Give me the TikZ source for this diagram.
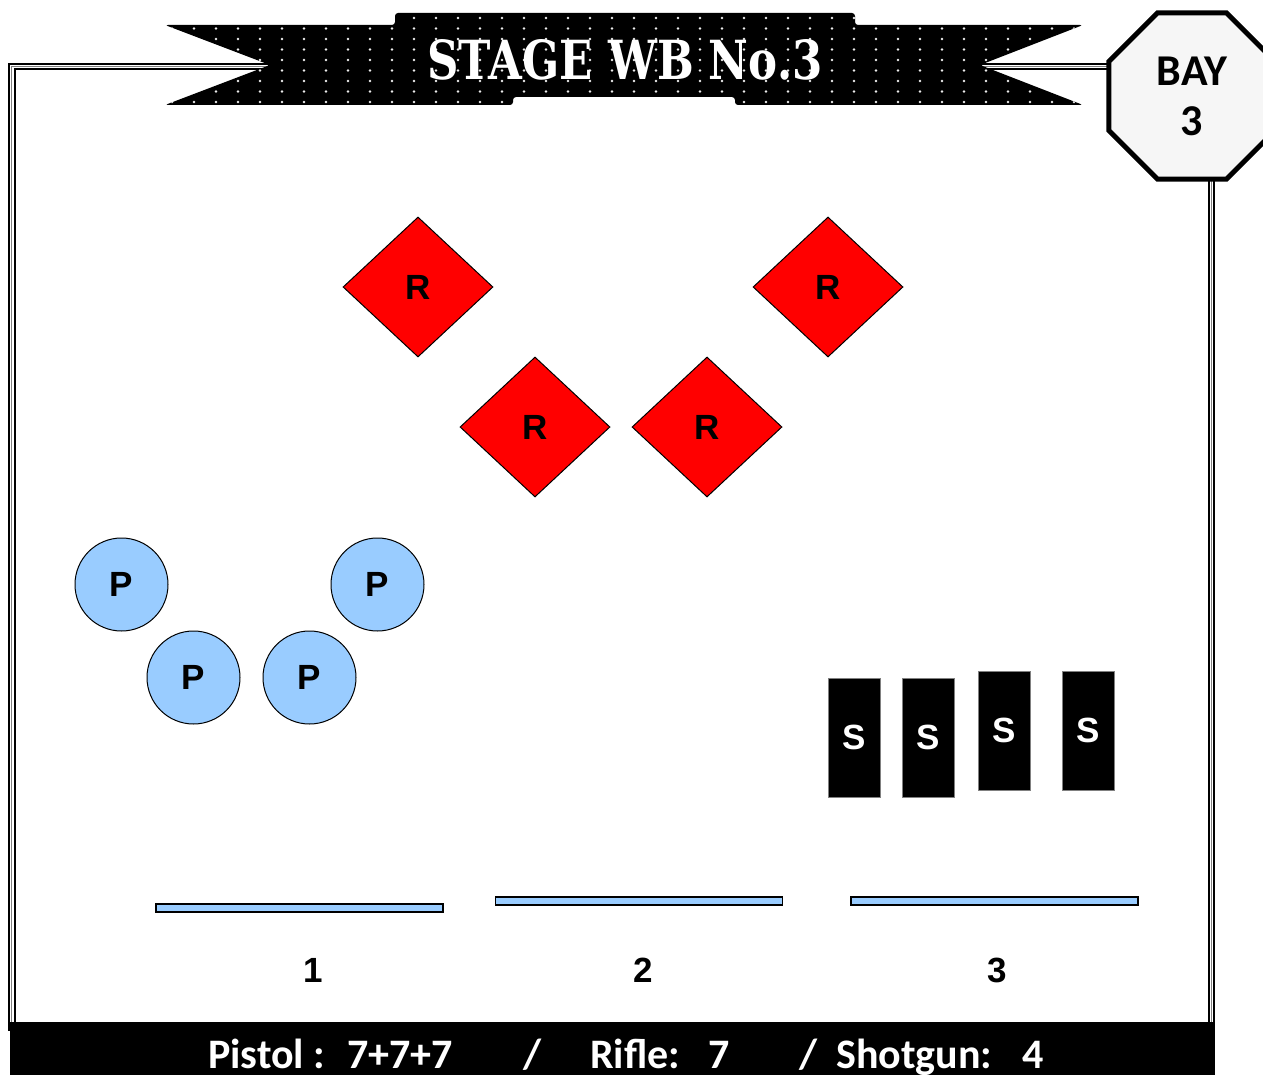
\documentclass[tikz,border=0pt]{standalone}
\usepackage{fontspec}
\setmainfont{Liberation Sans}
\newfontfamily\calib{Carlito}
\newfontfamily\slab{DejaVu Serif}
\usetikzlibrary{shapes.geometric}
\definecolor{pblue}{HTML}{99CCFF}
\definecolor{rred}{HTML}{FF0000}
\definecolor{octfill}{HTML}{F6F6F6}
\newcommand\bannershape{(165,25) -- (395,25) -- (395,13) -- (855,13) -- (855,25) -- (1083,25) -- (980,65) -- (1083,105) -- (735,105) -- (735,97) -- (513,97) -- (513,105) -- (165,105) -- (270,65) -- cycle}
\tikzset{
  lbl/.style={font=\fontsize{35}{40}\selectfont\bfseries},
  rtarget/.style={diamond, draw=black, line width=1pt, fill=rred, minimum width=150pt, minimum height=140pt, inner sep=0pt, lbl},
  ptarget/.style={circle, draw=black, line width=1pt, fill=pblue, minimum size=93pt, inner sep=0pt, lbl},
  starget/.style={rectangle, draw=gray, line width=0.8pt, fill=black, text=white, minimum width=52pt, minimum height=119pt, inner sep=0pt, lbl},
  fault/.style={rectangle, draw=black, line width=1.2pt, fill=pblue, minimum width=287pt, minimum height=8pt, inner sep=0pt},
  poslbl/.style={font=\fontsize{35}{40}\selectfont\bfseries},
  footer/.style={anchor=base west, text=white, inner sep=0pt, font=\calib\fontsize{42}{48}\selectfont\bfseries},
}
\begin{document}
\begin{tikzpicture}[x=1pt,y=-1pt]
\useasboundingbox (0,0) rectangle (1263,1075);
% frame
\draw[line width=2.5pt] (9,64) rectangle (1214,1030);
\draw[gray, line width=1pt] (11.5,66.5) rectangle (1211.5,1030);
\draw[line width=2pt] (15,69.5) rectangle (1209,1030);
% banner
\fill[black, rounded corners=3pt] \bannershape;
\begin{scope}
\clip \bannershape;
\foreach \c in {0,...,42}{\foreach \r in {0,...,9}{
  \fill[white!85!gray] (172+\c*22, 18+\r*10.5) circle (1.3);
}}
\end{scope}
\node[text=white, inner sep=0pt] (title) at (625,60) {\resizebox{395pt}{40pt}{\slab\bfseries STAGE WB No.3}};
% bay octagon
\node[regular polygon, regular polygon sides=8, minimum size=180pt, draw=black, line width=5pt, fill=octfill, inner sep=0pt, align=center, font=\calib\fontsize{44}{50}\selectfont\bfseries] (bay) at (1192,96) {BAY\\3};
% rifle targets
\node[rtarget] (r1) at (418,287) {R};
\node[rtarget] (r2) at (828,287) {R};
\node[rtarget] (r3) at (535,427) {R};
\node[rtarget] (r4) at (707,427) {R};
% pistol targets
\node[ptarget] (p1) at (121.5,584.5) {P};
\node[ptarget] (p2) at (377.5,584.5) {P};
\node[ptarget] (p3) at (193.5,677.5) {P};
\node[ptarget] (p4) at (309.5,677.5) {P};
% shotgun targets
\node[starget] (s1) at (854,737.5) {S};
\node[starget] (s2) at (928,737.5) {S};
\node[starget] (s3) at (1004,730.5) {S};
\node[starget] (s4) at (1088,730.5) {S};
% shooting positions
\node[fault] (f1) at (299.5,908) {};
\node[fault] (f2) at (639,901) {};
\node[fault] (f3) at (994.5,901) {};
\node[poslbl] (n1) at (313,970) {1};
\node[poslbl] (n2) at (643,970) {2};
\node[poslbl] (n3) at (997,970) {3};
% footer
\fill[black] (10,1022) rectangle (1215,1075);
\node[footer] (t1) at (208,1068) {Pistol :};
\node[footer] (t2) at (347,1068) {7+7+7};
\node[footer] (t3) at (523,1068) {/};
\node[footer] (t4) at (590,1068) {Rifle:};
\node[footer] (t5) at (708,1068) {7};
\node[footer] (t6) at (799,1068) {/};
\node[footer] (t7) at (836,1068) {Shotgun:};
\node[footer] (t8) at (1022,1068) {4};
\end{tikzpicture}
\end{document}
